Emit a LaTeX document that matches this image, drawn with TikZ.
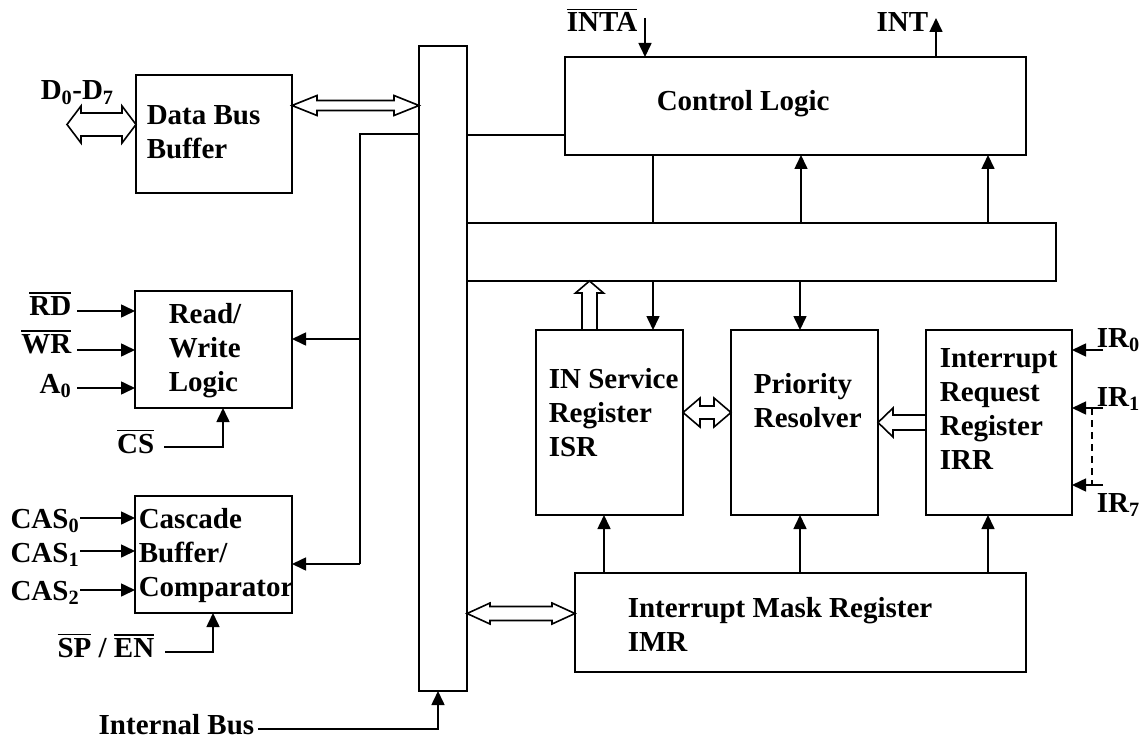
\documentclass[tikz,border=0pt]{standalone}
\usepackage{fontspec}
\setmainfont{Liberation Serif}
\usetikzlibrary{arrows.meta}
\newcommand\olb[1]{\leavevmode\vbox{\hrule height 1.6pt\kern 2.5pt\hbox{#1}}}
\newcommand\HDA[6]{\draw[hollow] (#1,#3) -- ({#1+#6},{#3-#5}) -- ({#1+#6},{#3-#4}) -- ({#2-#6},{#3-#4}) -- ({#2-#6},{#3-#5}) -- (#2,#3) -- ({#2-#6},{#3+#5}) -- ({#2-#6},{#3+#4}) -- ({#1+#6},{#3+#4}) -- ({#1+#6},{#3+#5}) -- cycle;}
\begin{document}
\begin{tikzpicture}[x=1pt,y=-1pt,
  font=\fontsize{29}{34}\selectfont\bfseries,
  line width=1.6pt,
  blk/.style={draw, line width=1.8pt, inner sep=0pt, outer sep=0pt, anchor=north west},
  txt/.style={anchor=base west, inner sep=0pt, align=left},
  lab/.style={anchor=base east, inner sep=0pt},
  arr/.style={-{Triangle[length=14pt,width=13pt]}},
  hollow/.style={draw, line width=1.6pt, fill=white, line join=miter}]
\useasboundingbox (0,0) rectangle (1139,738);

% blocks
\node[blk, minimum width=156pt, minimum height=118pt] (dbb) at (136,75) {};
\node[blk, minimum width=157pt, minimum height=117pt] (rwl) at (135,291) {};
\node[blk, minimum width=157pt, minimum height=117pt] (cas) at (135,496) {};
\node[blk, minimum width=48pt, minimum height=645pt] (bus) at (419,46) {};
\node[blk, minimum width=461pt, minimum height=98pt] (ctl) at (565,57) {};
\node[blk, minimum width=589pt, minimum height=58pt] (mid) at (467,223) {};
\node[blk, minimum width=147pt, minimum height=185pt] (isr) at (536,330) {};
\node[blk, minimum width=147pt, minimum height=185pt] (pri) at (731,330) {};
\node[blk, minimum width=146pt, minimum height=185pt] (irr) at (926,330) {};
\node[blk, minimum width=451pt, minimum height=99pt] (imr) at (575,573) {};

% block texts (anchor = baseline of the last line)
\node[txt] (tdbb) at (146,159) {Data Bus\\Buffer};
\node[txt] (trwl) at (168,391) {Read/\\Write\\Logic};
\node[txt] (tcas) at (138,596) {Cascade\\Buffer/\\Comparator};
\node[txt] (tctl) at (656,111) {Control Logic};
\node[txt] (tisr) at (548,456) {IN Service\\Register\\ISR};
\node[txt] (tpri) at (753,427) {Priority\\Resolver};
\node[txt] (tirr) at (939,469) {Interrupt\\Request\\Register\\IRR};
\node[txt] (timr) at (627,651) {Interrupt Mask Register\\IMR};

% outside labels
\node[txt] (ld) at (40,100) {D\textsubscript{0}-D\textsubscript{7}};
\node[lab] (lrd) at (72,315) {\olb{RD}};
\node[lab] (lwr) at (72,353) {\olb{WR}};
\node[lab] (la0) at (72,393) {A\textsubscript{0}};
\node[lab] (lcs) at (155,453) {\olb{CS}};
\node[lab] (lc0) at (80,528) {CAS\textsubscript{0}};
\node[lab] (lc1) at (80,562) {CAS\textsubscript{1}};
\node[lab] (lc2) at (80,600) {CAS\textsubscript{2}};
\node[lab] (lsp) at (155,657) {\olb{SP} / \olb{EN}};
\node[lab] (lib) at (255,734) {Internal Bus};
\node[lab] (linta) at (638,32) {\olb{INTA}};
\node[lab] (lint) at (929,32) {INT};
\node[txt] (lir0) at (1096,347) {IR\textsubscript{0}};
\node[txt] (lir1) at (1096,406) {IR\textsubscript{1}};
\node[txt] (lir7) at (1096,512) {IR\textsubscript{7}};

% hollow bus arrows
\HDA{67}{136}{124.5}{11.5}{18.5}{14}
\HDA{292}{419}{105.5}{5}{10}{25}
\HDA{683}{731}{412.5}{6.5}{14.5}{17}
\HDA{467}{575}{613.5}{7}{10.5}{23}
% IRR -> Priority
\draw[hollow] (878,422.5) -- (893,408) -- (893,415) -- (926,415) -- (926,430) -- (893,430) -- (893,437) -- cycle;
% ISR -> internal (up)
\draw[hollow] (589.5,281) -- (603.5,293) -- (597,293) -- (597,330) -- (582,330) -- (582,293) -- (575.5,293) -- cycle;

% left bus branch
\coordinate (tap) at (360,134);
\draw (bus.west |- tap) -- (tap) -- (360,564);
\draw[arr] (360,339) -- (rwl.east |- 0,339);
\draw[arr] (360,564) -- (cas.east |- 0,564);

% inputs
\draw[arr] (77,311) -- (rwl.west |- 0,311);
\draw[arr] (77,350) -- (rwl.west |- 0,350);
\draw[arr] (77,388) -- (rwl.west |- 0,388);
\draw[arr] (164,447) -- (223,447) -- (rwl.south -| 223,0);
\draw[arr] (80,518) -- (cas.west |- 0,518);
\draw[arr] (80,551) -- (cas.west |- 0,551);
\draw[arr] (80,590) -- (cas.west |- 0,590);
\draw[arr] (165,652) -- (213,652) -- (cas.south -| 213,0);
\draw[arr] (258,729) -- (438,729) -- (bus.south -| 438,0);

% control logic
\draw (bus.east |- 0,135) -- (ctl.west |- 0,135);
\draw[arr] (645,18) -- (ctl.north -| 645,0);
\draw[arr] (ctl.north -| 936,0) -- (936,18);
\draw (ctl.south -| 653,0) -- (mid.north -| 653,0);
\draw[arr] (mid.north -| 801,0) -- (ctl.south -| 801,0);
\draw[arr] (mid.north -| 988,0) -- (ctl.south -| 988,0);

% mid to registers
\draw[arr] (mid.south -| 653,0) -- (isr.north -| 653,0);
\draw[arr] (mid.south -| 800,0) -- (pri.north -| 800,0);

% IMR up
\draw[arr] (imr.north -| 604,0) -- (isr.south -| 604,0);
\draw[arr] (imr.north -| 800,0) -- (pri.south -| 800,0);
\draw[arr] (imr.north -| 988,0) -- (irr.south -| 988,0);

% IR inputs
\draw[arr] (1103,350) -- (irr.east |- 0,350);
\draw[arr] (1103,408) -- (irr.east |- 0,408);
\draw[arr] (1103,485) -- (irr.east |- 0,485);
\draw[dash pattern=on 7pt off 5pt, line width=1.4pt] (1092,408) -- (1092,485);
\end{tikzpicture}
\end{document}
